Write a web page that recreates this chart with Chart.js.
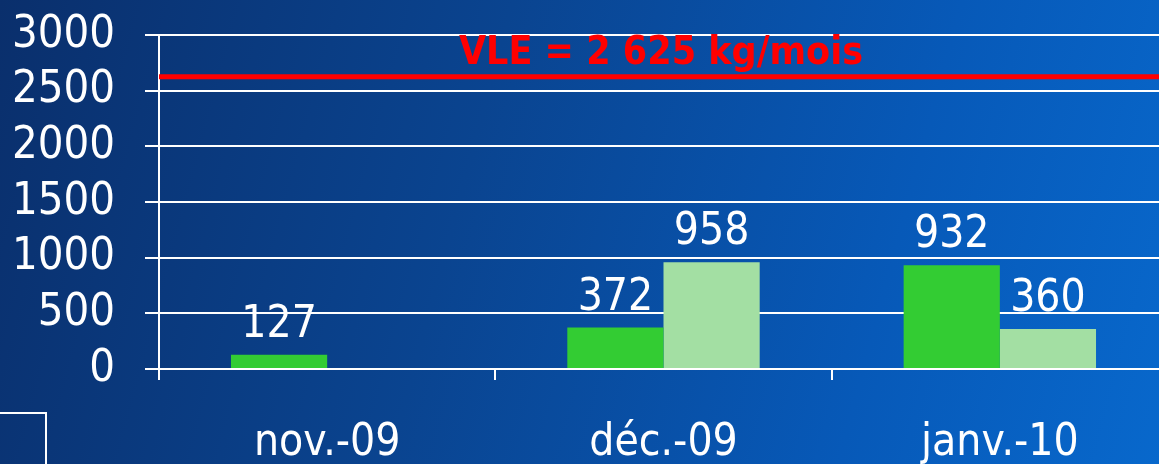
<!DOCTYPE html>
<html>
<head>
<meta charset="utf-8">
<script src="https://cdn.jsdelivr.net/npm/chart.js@4.4.0/dist/chart.umd.min.js"></script>
<style>
html, body {
    margin: 0;
    padding: 0;
    width: 1159px;
    height: 464px;
    overflow: hidden;
}
body {
    position: relative;
    background: linear-gradient(105deg, #0a2f6c 0%, #0a4490 40%, #0759b8 75%, #0868cc 100%);
}
#myChart {
    position: absolute;
    left: 0;
    top: 0;
}
#box {
    position: absolute;
    left: -10px;
    top: 412px;
    width: 53px;
    height: 70px;
    border: 2px solid #ffffff;
}
</style>
</head>
<body>
<canvas id="myChart" width="1168" height="464"></canvas>
<div id="box"></div>
<script>
//data
var months = ["nov.-09", "déc.-09", "janv.-10"];
var serieA = [127, 372, 932];
var serieB = [null, 958, 360];
var yTicks = [0, 500, 1000, 1500, 2000, 2500, 3000];
var vle = 2625;
var vleLabel = "VLE = 2 625 kg/mois";

var font = "'DejaVu Sans Condensed', 'DejaVu Sans', sans-serif";

//red limit line + value labels
var extras = {
    id: 'extras',
    afterDatasetsDraw: function(chart){
        var ctx = chart.ctx;
        var area = chart.chartArea;
        var y = chart.scales.y.getPixelForValue(vle);

        ctx.save();
        ctx.strokeStyle = '#ff0000';
        ctx.lineWidth = 5;
        ctx.beginPath();
        ctx.moveTo(area.left, y);
        ctx.lineTo(area.right, y);
        ctx.stroke();

        ctx.fillStyle = '#ff0000';
        ctx.font = "bold 39px " + font;
        ctx.textAlign = 'center';
        ctx.textBaseline = 'alphabetic';
        ctx.fillText(vleLabel, 661, y - 13);

        ctx.fillStyle = '#ffffff';
        ctx.font = "44px " + font;
        chart.data.datasets.forEach(function(ds, i){
            var meta = chart.getDatasetMeta(i);
            meta.data.forEach(function(bar, j){
                if(ds.data[j] === null) return;
                ctx.fillText(ds.data[j], bar.x, bar.y - 18);
            });
        });
        ctx.restore();
    }
};

var ctx = document.getElementById("myChart");
var myChart = new Chart(ctx, {
    type: 'bar',
    data: {
        labels: months,
        datasets: [
            {
                data: serieA,
                backgroundColor: '#33cc33',
                barPercentage: 1,
                categoryPercentage: 0.572
            },
            {
                data: serieB,
                backgroundColor: '#a3dfa3',
                barPercentage: 1,
                categoryPercentage: 0.572
            }
        ]
    },
    plugins: [extras],
    options: {
        responsive: false,
        animation: false,
        layout: {
            padding: { top: 35, right: 0, bottom: 0, left: 0 }
        },
        plugins: {
            legend: { display: false },
            tooltip: { enabled: false }
        },
        scales: {
            x: {
                afterFit: function(scale){
                    scale.height = 95;
                    scale.paddingLeft = 0;
                    scale.paddingRight = 0;
                },
                grid: {
                    drawOnChartArea: false,
                    drawTicks: true,
                    tickLength: 11,
                    color: '#ffffff',
                    lineWidth: 2,
                    offset: true
                },
                border: { display: false },
                ticks: {
                    color: '#ffffff',
                    font: { family: font, size: 44 },
                    padding: 37
                }
            },
            y: {
                min: yTicks[0],
                max: yTicks[yTicks.length - 1],
                afterFit: function(scale){
                    scale.width = 159;
                    scale.paddingTop = 0;
                    scale.paddingBottom = 0;
                },
                grid: {
                    color: '#ffffff',
                    lineWidth: 2,
                    tickLength: 14
                },
                border: { display: true, color: '#ffffff', width: 2 },
                ticks: {
                    stepSize: yTicks[1] - yTicks[0],
                    autoSkip: false,
                    color: '#ffffff',
                    font: { family: font, size: 45 },
                    padding: 30,
                    callback: function(v){ return String(v); }
                }
            }
        }
    }
});
</script>
</body>
</html>
